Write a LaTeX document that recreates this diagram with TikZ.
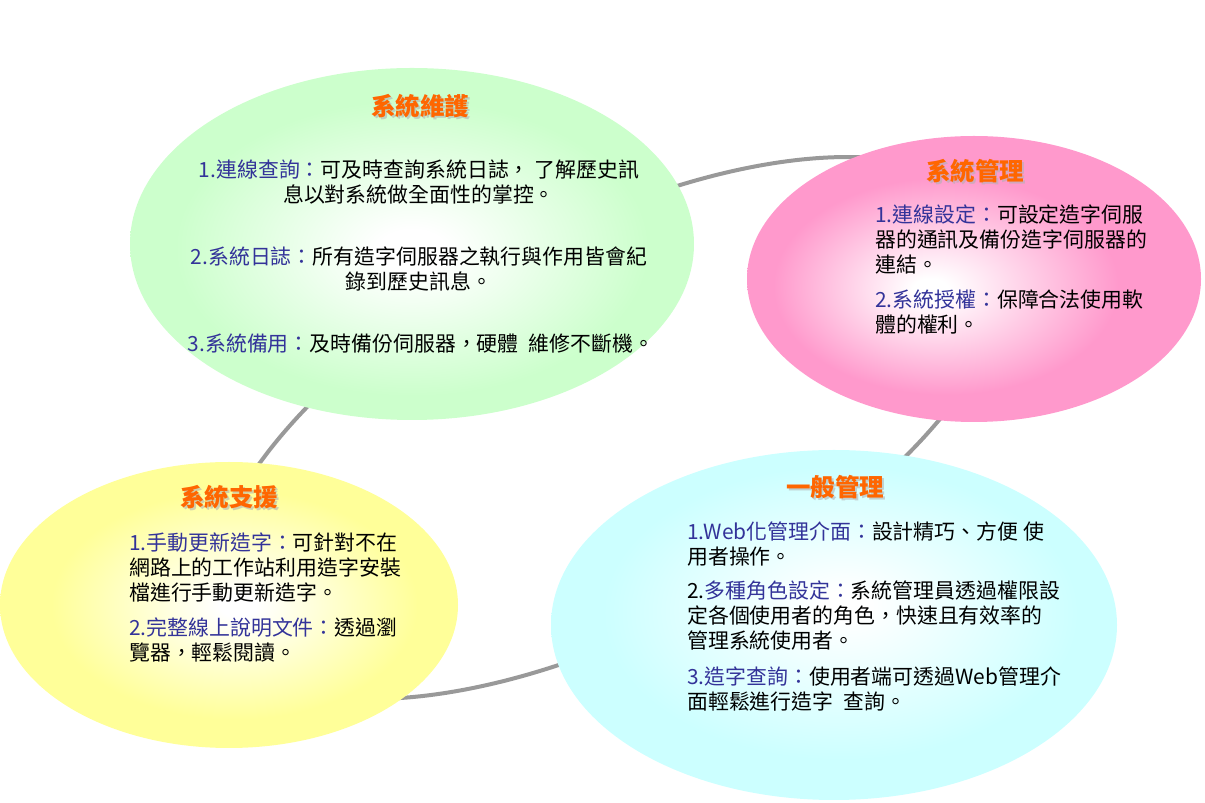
\documentclass[tikz,border=0pt]{standalone}
\usepackage{fontspec}
\setmainfont{Noto Sans CJK TC}
\usetikzlibrary{shapes.geometric}
\definecolor{ringgray}{HTML}{999999}
\definecolor{gEdge}{HTML}{CCFFCC}
\definecolor{pEdge}{HTML}{FF99CC}
\definecolor{yEdge}{HTML}{FFFF99}
\definecolor{cEdge}{HTML}{CCFFFF}
\definecolor{lblue}{HTML}{333399}
\definecolor{ttlorange}{HTML}{FF6600}
\pgfdeclareradialshading{gShade}{\pgfpoint{0bp}{-1bp}}{color(0bp)=(white);color(3bp)=(white);color(21bp)=(gEdge);color(50bp)=(gEdge)}
\pgfdeclareradialshading{pShade}{\pgfpoint{-5bp}{-2bp}}{color(0bp)=(white);color(2bp)=(white);color(19bp)=(pEdge);color(50bp)=(pEdge)}
\pgfdeclareradialshading{yShade}{\pgfpoint{1bp}{0bp}}{color(0bp)=(white);color(2bp)=(white);color(20bp)=(yEdge);color(50bp)=(yEdge)}
\pgfdeclareradialshading{cShade}{\pgfpoint{1bp}{3bp}}{color(0bp)=(white);color(2bp)=(white);color(21bp)=(cEdge);color(50bp)=(cEdge)}
\tikzset{
  ring/.style={draw=ringgray, line width=4pt},
  blob/.style={ellipse, inner sep=0pt, draw=none, shade},
  ttl/.style={font=\fontsize{24.5}{28}\selectfont\bfseries, text=ttlorange, inner sep=0pt},
  ttlshadow/.style={font=\fontsize{24.5}{28}\selectfont\bfseries, text=black!30, opacity=0.6, inner sep=0pt},
  body/.style={font=\fontsize{20.9}{24.7}\selectfont, inner sep=0pt, align=left, anchor=north west},
  bodyc/.style={font=\fontsize{20.9}{24.7}\selectfont, inner sep=0pt, align=center, anchor=north},
  lbl/.style={text=lblue}
}
\begin{document}
\begin{tikzpicture}[x=1pt,y=1pt]
\useasboundingbox (0,0) rectangle (1205,803);
% background ring
\coordinate (ringc) at (610,375);
\draw[ring, rotate around={28:(ringc)}] (ringc) ellipse [x radius=441, y radius=198];
% ellipses
\node[blob, shading=gShade, minimum width=564, minimum height=352] (green) at (412,559) {};
\node[blob, shading=pShade, minimum width=454, minimum height=286] (pink) at (974,524) {};
\node[blob, shading=yShade, minimum width=458, minimum height=286] (yellow) at (229,198) {};
\node[blob, shading=cShade, minimum width=566, minimum height=350] (cyan) at (834,178) {};
% green: 系統維護
\node[ttlshadow] (gTs) at (422,695) {系統維護};
\node[ttl] (gT) at (420,697) {系統維護};
\node[bodyc] (g1) at (419,643) {{\color{lblue}1.連線查詢：}可及時查詢系統日誌，\ 了解歷史訊\\息以對系統做全面性的掌控。};
\node[bodyc] (g2) at (419,556) {{\color{lblue}2.系統日誌：}所有造字伺服器之執行與作用皆會紀\\錄到歷史訊息。};
\node[bodyc] (g3) at (421,469) {{\color{lblue}3.系統備用：}及時備份伺服器，硬體\hspace{10pt}維修不斷機。};
% pink: 系統管理
\node[ttlshadow] (pTs) at (977,630) {系統管理};
\node[ttl] (pT) at (975,632) {系統管理};
\node[body] (p1) at (875,598) {{\color{lblue}1.連線設定：}可設定造字伺服\\器的通訊及備份造字伺服器的\\連結。};
\node[body] (p2) at (875,513) {{\color{lblue}2.系統授權：}保障合法使用軟\\體的權利。};
% yellow: 系統支援
\node[ttlshadow] (yTs) at (231,304) {系統支援};
\node[ttl] (yT) at (229,306) {系統支援};
\node[body] (y1) at (129,270) {{\color{lblue}1.手動更新造字：}可針對不在\\網路上的工作站利用造字安裝\\檔進行手動更新造字。};
\node[body] (y2) at (129,185) {{\color{lblue}2.完整線上說明文件：}透過瀏\\覽器，輕鬆閱讀。};
% cyan: 一般管理
\node[ttlshadow] (cTs) at (837,314) {一般管理};
\node[ttl] (cT) at (835,316) {一般管理};
\node[body] (c1) at (687,281) {{\color{lblue}1.Web化管理介面：}設計精巧、方便 使\\用者操作。};
\node[body] (c2) at (687,222) {2.{\color{lblue}多種角色設定：}系統管理員透過權限設\\定各個使用者的角色，快速且有效率的\\管理系統使用者。};
\node[body] (c3) at (687,136) {{\color{lblue}3.造字查詢：}使用者端可透過Web管理介\\面輕鬆進行造字\hspace{10pt}查詢。};
\end{tikzpicture}
\end{document}
